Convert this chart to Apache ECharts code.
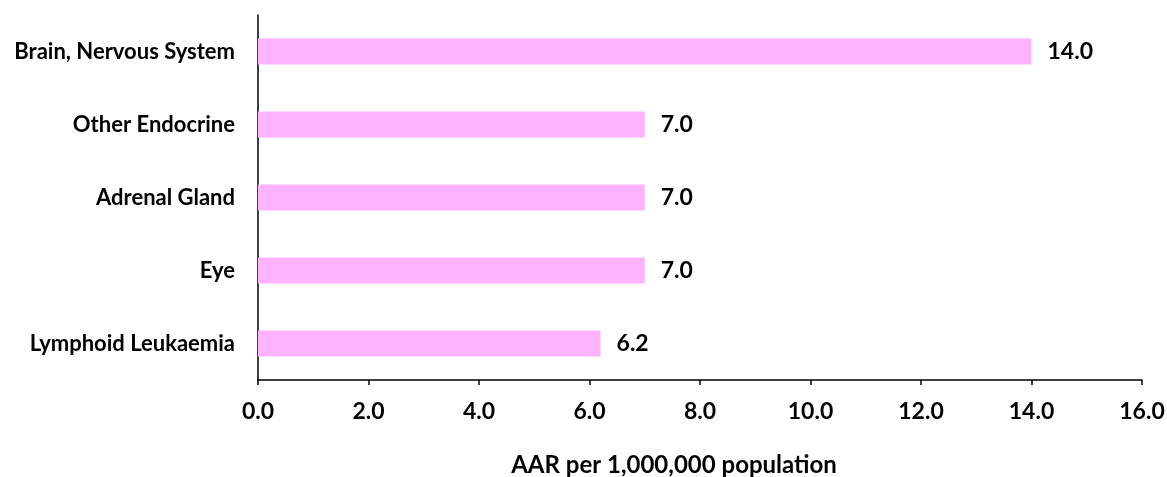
<!DOCTYPE html>
<html>
<head>
<meta charset="utf-8">
<script src="https://cdn.jsdelivr.net/npm/echarts@6/dist/echarts.min.js"></script>
<style>
  html, body { margin: 0; padding: 0; background: #fff; }
  #bar { width: 1167px; height: 477px; }
</style>
</head>
<body>
<div id="bar"></div>
<script>
// sites, top to bottom
const categories = ['Brain, Nervous System', 'Other Endocrine', 'Adrenal Gland', 'Eye', 'Lymphoid Leukaemia']
const aarValues = [14.0, 7.0, 7.0, 7.0, 6.2]
const xTicks = [0, 2, 4, 6, 8, 10, 12, 14, 16]

const font = 'Lato, "Open Sans", sans-serif'

echarts.init(document.getElementById('bar')).setOption({
  animation: false,
  grid: {
    left: 258,
    right: 25,
    top: 15,
    bottom: 97,
    containLabel: false,
    outerBoundsMode: 'none'
  },
  xAxis: {
    type: 'value',
    min: xTicks[0],
    max: xTicks[xTicks.length - 1],
    interval: 2,
    name: 'AAR per 1,000,000 population',
    nameLocation: 'middle',
    nameGap: 73,
    nameTextStyle: { color: '#000', fontWeight: 'bold', fontSize: 24, fontFamily: font, padding: [0, 52, 0, 0] },
    axisLine: { show: true, lineStyle: { color: '#000', width: 1.5 } },
    axisTick: { show: true, length: 5, lineStyle: { color: '#000', width: 1.5 } },
    splitLine: { show: false },
    axisLabel: {
      color: '#000',
      fontWeight: 'bold',
      fontSize: 23,
      fontFamily: font,
      margin: 20,
      formatter: v => v.toFixed(1)
    }
  },
  yAxis: {
    type: 'category',
    inverse: true,
    data: categories,
    axisLine: { show: true, lineStyle: { color: '#000', width: 1.5 } },
    axisTick: { show: false },
    axisLabel: {
      color: '#000',
      fontWeight: 'bold',
      fontSize: 22,
      fontFamily: font,
      margin: 23
    }
  },
  series: [
    {
      type: 'bar',
      data: aarValues,
      barWidth: 26,
      itemStyle: { color: '#FFB3FF' },
      label: {
        show: true,
        position: 'right',
        distance: 16,
        color: '#000',
        fontWeight: 'bold',
        fontSize: 23,
        fontFamily: font,
        formatter: p => p.value.toFixed(1)
      }
    }
  ]
})
</script>
</body>
</html>
